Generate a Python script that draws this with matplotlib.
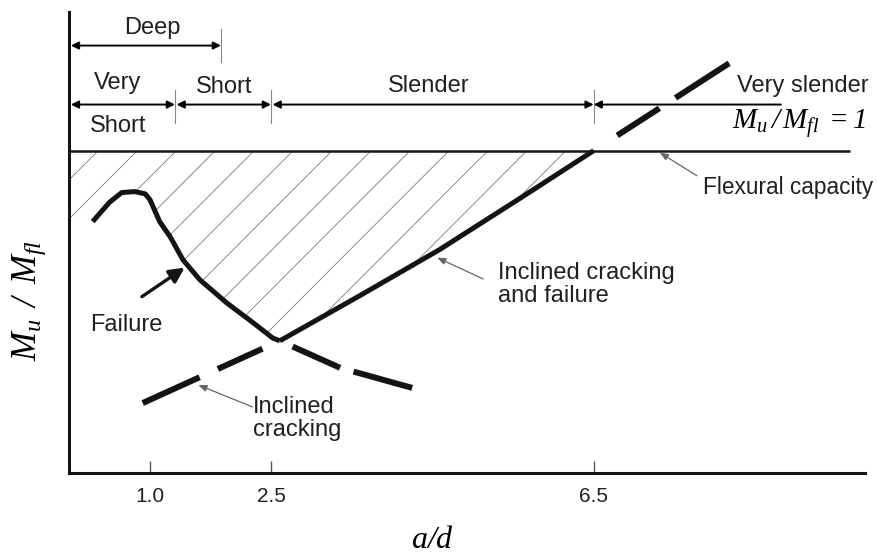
import numpy as np
import matplotlib
matplotlib.use("Agg")
import matplotlib.pyplot as plt
from matplotlib.patches import Polygon
from matplotlib.collections import LineCollection

plt.rcParams['font.family'] = ['Liberation Sans', 'DejaVu Sans']
plt.rcParams['mathtext.fontset'] = 'custom'
plt.rcParams['mathtext.it'] = 'Liberation Serif:italic'
plt.rcParams['mathtext.rm'] = 'Liberation Serif:italic'

# failure curve (solid, short beams) in a/d vs Mu/Mfl
fail_x = [0.29, 0.50, 0.65, 0.81, 0.94, 1.00, 1.12, 1.25, 1.41, 1.62, 1.95, 2.28, 2.52, 2.61]
fail_y = [0.78, 0.84, 0.87, 0.873, 0.866, 0.848, 0.78, 0.733, 0.661, 0.599, 0.528, 0.466, 0.419, 0.41]
# inclined cracking and failure (solid, slender beams)
slend_x = [2.61, 3.60, 4.59, 5.58, 6.50]
slend_y = [0.41, 0.55, 0.693, 0.851, 1.0]
# dashed extensions
crack_x = [2.61, 0.91]
crack_y = [0.41, 0.217]
fail_ext_x = [2.61, 3.36, 4.25]
fail_ext_y = [0.41, 0.326, 0.264]
vslend_x = [6.50, 8.21]
vslend_y = [1.0, 1.276]

flex_level = 1.0
flex_end = 9.68

xticks = [1.0, 2.5, 6.5]
xtick_labels = ['1.0', '2.5', '6.5']

# beam classification ranges
deep_range = (0.0, 1.88)
class_bounds = [0.0, 1.31, 2.50, 6.50, 8.82]
class_names = ['Very\n\nShort', 'Short', 'Slender', 'Very slender']

fig = plt.figure(figsize=(8.78, 5.57), dpi=100)
ax = fig.add_axes([0.0789, 0.1508, 0.906, 0.8276])
ax.set_xlim(0, 9.86)
ax.set_ylim(0, 1.43)

ink = '#141414'
txt = '#202020'
fs = 17

# hatched safe region between flexural capacity and failure envelope
poly = [(0, flex_level), (slend_x[-1], flex_level)]
poly += list(zip(slend_x[::-1], slend_y[::-1]))
poly += list(zip(fail_x[::-1], fail_y[::-1]))
poly += [(0, fail_y[0] + 0.015)]
region = Polygon(poly, closed=True, facecolor='none', edgecolor='none')
ax.add_patch(region)
k = 80.7 / 322.0
segs = []
for c in np.arange(-3.63 - 0.483 * 10, 8, 0.483):
    segs.append([(c, 0.0), (c + 1.5 / k, 1.5)])
hatch = LineCollection(segs, colors='#7a7a7a', linewidths=0.6)
ax.add_collection(hatch)
hatch.set_clip_path(region)

# flexural capacity line
ax.plot([0, flex_end], [flex_level, flex_level], color=ink, lw=1.8, solid_capstyle='butt')

# solid curves
ax.plot(fail_x, fail_y, color=ink, lw=3.6, solid_capstyle='butt', solid_joinstyle='round')
ax.plot(slend_x, slend_y, color=ink, lw=3.6, solid_capstyle='butt')

# dashed curves, drawn outward from the junction points (start with a gap)
ax.plot(crack_x, crack_y, color=ink, lw=4.3,
        linestyle=(0, (0, 3.2, 8.2, 3.35, 10.5, 5)), dash_capstyle='butt')
ax.plot(fail_ext_x, fail_ext_y, color=ink, lw=4.3,
        linestyle=(0, (0, 2.35, 8.7, 2.35, 10.2, 5)), dash_capstyle='butt')
ax.plot(vslend_x, vslend_y, color=ink, lw=4.3,
        linestyle=(0, (0, 4.7, 8.4, 3.2, 10.7, 5)), dash_capstyle='butt')

# classification dimension lines
dim = dict(arrowstyle='<|-|>', lw=1.4, color='black', shrinkA=0, shrinkB=0,
           mutation_scale=11)
y_deep, y_cls = 1.326, 1.143
ax.annotate('', xy=(deep_range[1], y_deep), xytext=(deep_range[0] + 0.02, y_deep),
            arrowprops=dim)
ax.plot([deep_range[1]] * 2, [1.276, 1.376], color='#888888', lw=0.8)
ax.text(sum(deep_range) / 2 + 0.09, 1.382, 'Deep', ha='center', va='center',
        fontsize=fs, color=txt)
for i in range(len(class_bounds) - 1):
    x0, x1 = class_bounds[i], class_bounds[i + 1]
    if i < len(class_bounds) - 2:
        ax.annotate('', xy=(x1, y_cls), xytext=(x0 + 0.02, y_cls), arrowprops=dim)
        ax.plot([x1] * 2, [1.087, 1.189], color='#888888', lw=0.8)
    else:
        ax.annotate('', xy=(x0, y_cls), xytext=(x1, y_cls),
                    arrowprops=dict(dim, arrowstyle='-|>'))
text_pos = [(0.60, 1.143), (1.92, 1.196), (4.46, 1.199), (9.09, 1.202)]
for name, (tx, ty) in zip(class_names, text_pos):
    ax.text(tx, ty, name, ha='center', va='center', fontsize=fs, color=txt,
            linespacing=0.95)

ax.text(8.21, 1.085, r'$M_u\,/\,M_{fl}\;=1$', ha='left', va='center',
        fontsize=21, color='black')

# annotations
thin = dict(arrowstyle='-|>,head_length=0.5,head_width=0.2', lw=0.9, color='#666666',
            shrinkA=0, shrinkB=0)
ax.annotate('', xy=(7.32, 0.994), xytext=(7.78, 0.922), arrowprops=thin)
ax.text(7.86, 0.886, 'Flexural capacity', ha='left', va='center', fontsize=16.3,
        color=txt, clip_on=False)
ax.annotate('', xy=(4.56, 0.668), xytext=(5.13, 0.602), arrowprops=thin)
ax.text(5.31, 0.585, 'Inclined cracking\nand failure', ha='left', va='center',
        fontsize=fs, color=txt, linespacing=1.05)
ax.annotate('', xy=(1.60, 0.273), xytext=(2.27, 0.205), arrowprops=thin)
ax.text(2.28, 0.169, 'Inclined\ncracking', ha='left', va='center',
        fontsize=fs, color=txt, linespacing=1.05)
ax.annotate('', xy=(1.43, 0.637), xytext=(0.90, 0.547),
            arrowprops=dict(arrowstyle='-|>,head_length=0.9,head_width=0.45',
                            lw=2.4, color=ink, shrinkA=0, shrinkB=0))
ax.text(0.26, 0.460, 'Failure', ha='left', va='center', fontsize=fs, color=txt)

# axes styling
for s in ['top', 'right']:
    ax.spines[s].set_visible(False)
for s in ['left', 'bottom']:
    ax.spines[s].set_linewidth(2.2)
    ax.spines[s].set_color(ink)
ax.set_yticks([])
ax.set_xticks(xticks)
ax.set_xticklabels(xtick_labels)
ax.tick_params(axis='x', direction='in', length=9, width=1.0, color='#555555',
               labelsize=15, pad=10, labelcolor=txt)

ax.set_xlabel(r'$a/d$', fontsize=23)
ax.xaxis.set_label_coords(0.457, -0.145)
ax.xaxis.label.set_verticalalignment('center')
ax.set_ylabel(r'$M_u\ \,/\ \,M_{fl}$', fontsize=25)
ax.yaxis.set_label_coords(-0.05, 0.375)
ax.yaxis.label.set_verticalalignment('center')

plt.savefig('out.png', dpi=100)
